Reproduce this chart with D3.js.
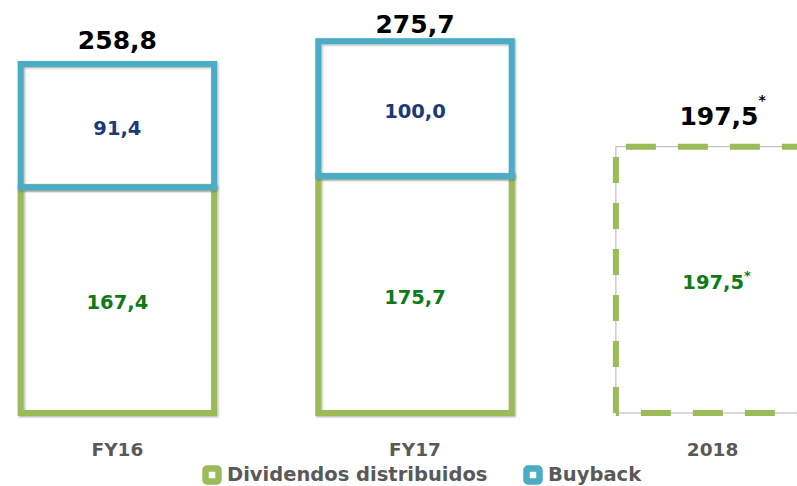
<!DOCTYPE html>
<html>
<head>
<meta charset="utf-8">
<script src="https://cdn.jsdelivr.net/npm/d3@7"></script>
<style>
  body{margin:0;background:#fff}
  svg{display:block;font-family:"DejaVu Sans",sans-serif;font-weight:bold}
</style>
</head>
<body>
<svg width="797" height="486"></svg>
<script>
const categories = ["FY16", "FY17", "2018"]
const dividends = [167.4, 175.7, 197.5]
const buyback = [91.4, 100.0, null]
const estimated = [false, false, true]
const seriesNames = ["Dividendos distribuidos", "Buyback"]

const fmt = v => d3.format(".1f")(v).replace(".", ",")
const GREEN = "#9bbb59", BLUE = "#4bacc6"

const svg = d3.select("svg")
const defs = svg.append("defs")
defs.append("filter").attr("id", "sh")
	.attr("x", "-5%").attr("y", "-5%").attr("width", "110%").attr("height", "110%")
	.append("feDropShadow")
	.attr("dx", 1).attr("dy", 1).attr("stdDeviation", 0.8)
	.attr("flood-color", "#000").attr("flood-opacity", 0.35)

const x = d3.scaleBand().domain(categories).range([-31.4, 861.4])
	.paddingInner(0.35).paddingOuter(0.175)
const y = d3.scaleLinear().domain([0, 258.8]).range([413, 64])

const data = categories.map((c, i) => ({
	cat: c, div: dividends[i], buy: buyback[i], est: estimated[i],
	total: dividends[i] + (buyback[i] || 0)
}))

const bars = svg.append("g")
const w = x.bandwidth()

// solid bars
data.filter(d => !d.est).forEach(d => {
	const x0 = x(d.cat)
	bars.append("rect")
		.attr("x", x0).attr("y", y(d.div))
		.attr("width", w).attr("height", y(0) - y(d.div))
		.attr("fill", "none").attr("stroke", GREEN).attr("stroke-width", 6)
		.attr("filter", "url(#sh)")
	bars.append("rect")
		.attr("x", x0).attr("y", y(d.total))
		.attr("width", w).attr("height", y(d.div) - y(d.total))
		.attr("fill", "none").attr("stroke", BLUE).attr("stroke-width", 6)
		.attr("filter", "url(#sh)")
})

// estimated bar, dashed
data.filter(d => d.est).forEach(d => {
	const x0 = x(d.cat), x1 = x0 + w, yt = y(d.div), yb = y(0)
	bars.append("rect")
		.attr("x", x0).attr("y", yt).attr("width", w).attr("height", yb - yt)
		.attr("fill", "none").attr("stroke", "#b5b5b5").attr("stroke-width", 1)
	const line = d3.line()
	bars.append("path").attr("d", line([[x0, yb], [x0, yt]]))
		.attr("stroke", GREEN).attr("stroke-width", 6).attr("fill", "none")
		.attr("stroke-dasharray", "26,20")
	bars.append("path").attr("d", line([[x0, yt], [x1, yt]]))
		.attr("stroke", GREEN).attr("stroke-width", 6).attr("fill", "none")
		.attr("stroke-dasharray", "30,22").attr("stroke-dashoffset", 42)
	bars.append("path").attr("d", line([[x0, yb], [x1, yb]]))
		.attr("stroke", GREEN).attr("stroke-width", 6).attr("fill", "none")
		.attr("stroke-dasharray", "30,22").attr("stroke-dashoffset", 27)
})

// inner labels
const lab = svg.append("g").attr("text-anchor", "middle")
data.forEach(d => {
	const cx = x(d.cat) + w / 2
	const t = lab.append("text")
		.attr("x", cx).attr("y", (y(d.div) + y(0)) / 2 + 9)
		.attr("font-size", 19.5).attr("fill", "#0e7a17")
		.text(fmt(d.div))
	if (d.est) {
		t.attr("x", cx + 4)
		t.append("tspan").attr("font-size", 13).attr("dy", -9).text("*")
	}
	if (d.buy != null) {
		lab.append("text")
			.attr("x", cx).attr("y", (y(d.total) + y(d.div)) / 2 + 9)
			.attr("font-size", 19.5).attr("fill", "#1c3a78")
			.text(fmt(d.buy))
	}
	// total labels
	const tt = lab.append("text")
		.attr("x", cx).attr("y", d.est ? y(d.total) - 22 : Math.max(y(d.total) - 15, 33))
		.attr("font-size", 25).attr("fill", "#000")
		.text(fmt(d.total))
	if (d.est) {
		tt.attr("x", cx + 10)
		tt.append("tspan").attr("font-size", 14).attr("dy", -20).text("*")
	}
})

// category axis
const axis = svg.append("g").attr("transform", "translate(0,456)")
	.call(d3.axisBottom(x).tickSize(0).tickPadding(0))
axis.select(".domain").remove()
axis.selectAll("text")
	.attr("dy", 0).attr("font-size", 18.5).attr("fill", "#595959")
	.attr("font-family", "DejaVu Sans").attr("font-weight", "bold")

// legend
const legend = svg.append("g")
const legendX = [205.5, 526.5]
const legendColors = [GREEN, BLUE]
seriesNames.forEach((n, i) => {
	legend.append("rect")
		.attr("x", legendX[i]).attr("y", 468.5).attr("width", 13).attr("height", 13)
		.attr("rx", 1.5).attr("fill", "#fff")
		.attr("stroke", legendColors[i]).attr("stroke-width", 6.5)
	legend.append("text")
		.attr("x", legendX[i] + 21.5).attr("y", 481)
		.attr("font-size", 19.5).attr("fill", "#595959")
		.text(n)
})
</script>
</body>
</html>
